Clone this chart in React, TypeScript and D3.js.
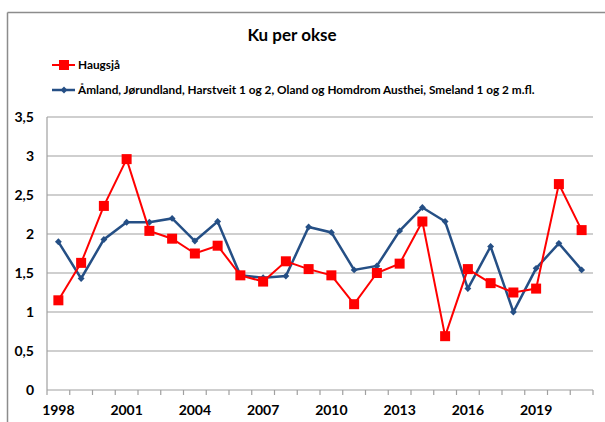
import React from "react";
import * as d3 from "d3";

const years = [1998, 1999, 2000, 2001, 2002, 2003, 2004, 2005, 2006, 2007, 2008, 2009, 2010, 2011, 2012, 2013, 2014, 2015, 2016, 2017, 2018, 2019, 2020, 2021];
const haugsja = [1.15, 1.63, 2.36, 2.96, 2.04, 1.94, 1.75, 1.85, 1.47, 1.39, 1.65, 1.55, 1.47, 1.10, 1.50, 1.62, 2.16, 0.69, 1.55, 1.37, 1.25, 1.30, 2.64, 2.05];
const amland = [1.90, 1.43, 1.93, 2.15, 2.15, 2.20, 1.91, 2.16, 1.47, 1.44, 1.46, 2.09, 2.02, 1.54, 1.59, 2.04, 2.34, 2.16, 1.30, 1.84, 1.00, 1.56, 1.88, 1.54];
const yTicks = [0, 0.5, 1, 1.5, 2, 2.5, 3, 3.5];
const xLabelYears = [1998, 2001, 2004, 2007, 2010, 2013, 2016, 2019];
const seriesNames = ["Haugsjå", "Åmland, Jørundland, Harstveit 1 og 2, Oland og Homdrom Austhei, Smeland 1 og 2 m.fl."];
const title = "Ku per okse";

const W = 605, H = 422;
const left = 47, right = 593, top = 117, bottom = 390;
const RED = "#ff0000";
const BLUE = "#254f85";
const FONT = "Lato, 'Liberation Sans', sans-serif";

export default function App() {
  const x = d3.scaleBand<number>().domain(years).range([left, right]).padding(0);
  const y = d3.scaleLinear().domain([0, 3.5]).range([bottom, top]);
  const cx = (yr: number) => (x(yr) as number) + x.bandwidth() / 2;
  const line = d3.line<number>().x((_, i) => cx(years[i])).y((v) => y(v));

  const boundaries = years.map((yr) => x(yr) as number).concat([right]);

  return (
    <svg width={W} height={H} style={{ position: "absolute", left: 0, top: 0, background: "#fff" }} fontFamily={FONT}>
      <rect x={0} y={0} width={W} height={H} fill="#fff" />
      {/* outer frame */}
      <line x1={7.5} y1={12.5} x2={W} y2={12.5} stroke="#8c8c8c" strokeWidth={1.5} />
      <line x1={7.5} y1={12.5} x2={7.5} y2={H} stroke="#8c8c8c" strokeWidth={1.5} />

      <text x={292} y={41} textAnchor="middle" fontSize={17} fontWeight="bold" fill="#000">{title}</text>

      {/* legend */}
      <g>
        <line x1={52} x2={75} y1={65} y2={65} stroke={RED} strokeWidth={2} />
        <rect x={59} y={60} width={10} height={10} fill={RED} />
        <text x={78} y={69} fontSize={11.8} fontWeight="bold" fill="#000">{seriesNames[0]}</text>
        <line x1={52} x2={75} y1={90} y2={90} stroke={BLUE} strokeWidth={2.5} />
        <path d={d3.symbol(d3.symbolDiamond2, 30)() as string} transform="translate(64,90)" fill={BLUE} />
        <text x={78} y={94} fontSize={11.8} fontWeight="bold" fill="#000">{seriesNames[1]}</text>
      </g>

      {/* gridlines */}
      {yTicks.map((t) => (
        <line key={t} x1={left} x2={right} y1={y(t)} y2={y(t)} stroke="#a0a0a0" strokeWidth={1.2} />
      ))}
      {/* y axis line */}
      <line x1={left} x2={left} y1={top} y2={bottom} stroke="#a0a0a0" strokeWidth={1.2} />
      {/* x ticks */}
      {boundaries.map((b, i) => (
        <line key={i} x1={b} x2={b} y1={bottom} y2={bottom + 5} stroke="#a0a0a0" strokeWidth={1.2} />
      ))}
      {/* y labels */}
      {yTicks.map((t) => (
        <text key={t} x={34} y={y(t) + 5} textAnchor="end" fontSize={14} fontWeight="bold" fill="#000">
          {String(t).replace(".", ",")}
        </text>
      ))}
      {/* x labels */}
      {xLabelYears.map((yr) => (
        <text key={yr} x={cx(yr)} y={415} textAnchor="middle" fontSize={14} fontWeight="bold" fill="#000">{yr}</text>
      ))}

      {/* series */}
      <path d={line(amland) as string} fill="none" stroke={BLUE} strokeWidth={2.5} />
      {amland.map((v, i) => (
        <path key={i} d={d3.symbol(d3.symbolDiamond2, 30)() as string} transform={`translate(${cx(years[i])},${y(v)})`} fill={BLUE} />
      ))}
      <path d={line(haugsja) as string} fill="none" stroke={RED} strokeWidth={2} />
      {haugsja.map((v, i) => (
        <rect key={i} x={cx(years[i]) - 5} y={y(v) - 5} width={10} height={10} fill={RED} />
      ))}
    </svg>
  );
}
